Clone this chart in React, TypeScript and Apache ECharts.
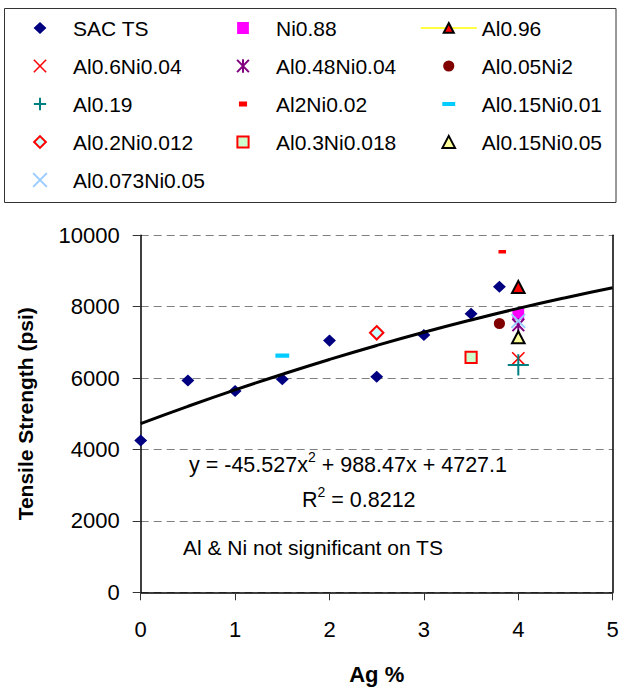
import React, { useEffect, useRef } from 'react';
import * as echarts from 'echarts';

// ---- data ----
const sacAg = [0, 0.5, 1, 1.5, 2, 2.5, 3, 3.5, 3.8];
const sacTS = [4250, 5930, 5640, 5970, 7050, 6040, 7210, 7800, 8560];

const alloyNames = [
  'Ni0.88', 'Al0.96', 'Al0.6Ni0.04', 'Al0.48Ni0.04', 'Al0.05Ni2', 'Al0.19',
  'Al2Ni0.02', 'Al0.15Ni0.01', 'Al0.2Ni0.012', 'Al0.3Ni0.018', 'Al0.15Ni0.05', 'Al0.073Ni0.05',
];
const alloyAg = [4, 4, 4, 4, 3.8, 4, 3.83, 1.5, 2.5, 3.5, 4, 4];
const alloyTS = [7800, 8550, 6550, 7490, 7530, 6370, 9540, 6630, 7270, 6580, 7140, 7600];

// polynomial trendline as drawn
const trendAg = [0, 0.5, 1, 1.5, 2, 2.5, 3, 3.5, 4, 4.5, 5];
const trendTS = [4727, 5210, 5670, 6107, 6522, 6914, 7283, 7629, 7953, 8253, 8531];

const equationText = '{n|y = -45.527x}{s|2}{n| + 988.47x + 4727.1}';
const r2Text = '{n|R}{s|2}{n| = 0.8212}';
const noteText = 'Al & Ni not significant on TS';

// ---- styling ----
const FONT = 'Liberation Sans';
const FR = 'M0 0 L0 0.01 M100 100 L100 99.99 ';
const SHAPES: Record<string, string> = {
  diamond: FR + 'M50 7 L96 50 L50 93 L4 50 Z',
  square: FR + 'M8 8 L92 8 L92 92 L8 92 Z',
  triangle: FR + 'M50 6 L95 92 L5 92 Z',
  cross: FR + 'M6 6 L94 94 M94 6 L6 94',
  asterisk: FR + 'M8 6 L92 94 M92 6 L8 94 M50 2 L50 98',
  circle: FR + 'M10 50 A40 40 0 1 1 90 50 A40 40 0 1 1 10 50 Z',
  plus: FR + 'M50 6 L50 94 M6 50 L94 50',
  dashSmall: FR + 'M21 33 L79 33 L79 67 L21 67 Z',
  dashWide: FR + 'M4 35 L96 35 L96 65 L4 65 Z',
  diamondSmall: FR + 'M50 8 L92 50 L50 92 L8 50 Z',
  squareSmall: FR + 'M10 10 L90 10 L90 90 L10 90 Z',
  bigCross: FR + 'M1 1 L99 99 M99 1 L1 99',
};

type Sty = { shape: string; size: number | number[]; fill?: string; stroke?: string; lw?: number };
const STY: Record<string, Sty> = {
  'SAC TS': { shape: 'diamond', size: 14, fill: '#000080' },
  'Ni0.88': { shape: 'square', size: 14, fill: '#FF00FF' },
  'Al0.96': { shape: 'triangle', size: 14, fill: '#FF0000', stroke: '#000000', lw: 2 },
  'Al0.6Ni0.04': { shape: 'cross', size: 14, stroke: '#FF0000', lw: 1.5 },
  'Al0.48Ni0.04': { shape: 'asterisk', size: 14, stroke: '#800080', lw: 2 },
  'Al0.05Ni2': { shape: 'circle', size: 14, fill: '#800000' },
  'Al0.19': { shape: 'plus', size: 24, stroke: '#008080', lw: 2 },
  'Al2Ni0.02': { shape: 'dashSmall', size: [13, 10], fill: '#FF0000' },
  'Al0.15Ni0.01': { shape: 'dashWide', size: [15, 14], fill: '#00CCFF' },
  'Al0.2Ni0.012': { shape: 'diamondSmall', size: 16, fill: '#CCFFFF', stroke: '#FF0000', lw: 2 },
  'Al0.3Ni0.018': { shape: 'squareSmall', size: 14, fill: '#CCFFCC', stroke: '#FF0000', lw: 2 },
  'Al0.15Ni0.05': { shape: 'triangle', size: 14, fill: '#FFFF99', stroke: '#000000', lw: 2 },
  'Al0.073Ni0.05': { shape: 'bigCross', size: 14, stroke: '#99CCFF', lw: 2 },
};

function itemStyleOf(s: Sty) {
  return {
    color: s.fill || 'rgba(0,0,0,0)',
    borderColor: s.stroke || 'rgba(0,0,0,0)',
    borderWidth: s.lw || 0,
    opacity: 1,
  };
}

const richStyles = {
  n: { fontFamily: FONT, fontSize: 21.5, lineHeight: 30, fill: '#000', color: '#000' },
  s: { fontFamily: FONT, fontSize: 14, lineHeight: 14, verticalAlign: 'top', fill: '#000', color: '#000' },
};

export default function App() {
  const ref = useRef<HTMLDivElement>(null);
  useEffect(() => {
    if (!ref.current) return;
    const chart = echarts.init(ref.current, undefined, { renderer: 'svg' });

    const legendOrder = ['SAC TS', ...alloyNames];
    const series: any[] = [];
    series.push({
      name: 'SAC TS',
      type: 'scatter',
      data: sacAg.map((x, i) => [x, sacTS[i]]),
      symbol: 'path://' + SHAPES[STY['SAC TS'].shape],
      symbolSize: STY['SAC TS'].size,
      itemStyle: itemStyleOf(STY['SAC TS']),
      emphasis: { disabled: true },
    });
    alloyNames.forEach((name, i) => {
      const s = STY[name];
      const isLine = name === 'Al0.96';
      series.push({
        name,
        type: isLine ? 'line' : 'scatter',
        data: [[alloyAg[i], alloyTS[i]]],
        symbol: 'path://' + SHAPES[s.shape],
        symbolSize: s.size,
        showSymbol: true,
        itemStyle: itemStyleOf(s),
        lineStyle: isLine ? { color: '#FFFF00', width: 1.5 } : undefined,
        emphasis: { disabled: true },
      });
    });
    series.push({
      name: 'trend',
      type: 'line',
      data: trendAg.map((x, i) => [x, trendTS[i]]),
      smooth: true,
      showSymbol: false,
      symbol: 'none',
      silent: true,
      lineStyle: { color: '#000000', width: 3 },
      emphasis: { disabled: true },
    });

    const colLefts = [32, 235, 420];
    const legends = [0, 1, 2].map((c) => ({
      orient: 'vertical',
      left: colLefts[c],
      top: 17.5,
      padding: 0,
      itemWidth: 56,
      itemHeight: 14,
      itemGap: 17,
      symbolKeepAspect: true,
      selectedMode: false,
      textStyle: { fontFamily: FONT, fontSize: 21, color: '#000000' },
      data: legendOrder
        .filter((_, i) => i % 3 === c)
        .map((name) => {
          const s = STY[name];
          if (name === 'Al0.96') {
            return {
              name,
              itemStyle: itemStyleOf(s),
              lineStyle: { color: '#FFFF00', width: 1.5 },
            };
          }
          return { name, icon: 'path://' + SHAPES[s.shape], itemStyle: itemStyleOf(s) };
        }),
    }));

    chart.setOption({
      animation: false,
      textStyle: { fontFamily: FONT },
      grid: { left: 140.7, right: 6.3, top: 235.3, bottom: 95.7, containLabel: false, outerBoundsMode: 'none' },
      legend: legends,
      xAxis: {
        type: 'value',
        min: 0,
        max: 5,
        interval: 1,
        name: 'Ag %',
        nameLocation: 'middle',
        nameGap: 71,
        nameTextStyle: { fontFamily: FONT, fontSize: 22, fontWeight: 'bold', color: '#000' },
        axisLine: { show: true, onZero: false, lineStyle: { color: '#000', width: 1.5 } },
        axisTick: { show: true, length: 8, lineStyle: { color: '#333', width: 1 } },
        axisLabel: { margin: 26, fontSize: 22, color: '#000', fontFamily: FONT, formatter: (v: number) => String(v) },
        splitLine: { show: false },
      },
      yAxis: [
        {
          type: 'value',
          min: 0,
          max: 10000,
          interval: 2000,
          name: 'Tensile Strength (psi)',
          nameLocation: 'middle',
          nameGap: 105,
          nameTextStyle: { fontFamily: FONT, fontSize: 21, fontWeight: 'bold', color: '#000' },
          axisLine: { show: true, lineStyle: { color: '#000', width: 1.5 } },
          axisTick: { show: true, length: 8, lineStyle: { color: '#333', width: 1 } },
          axisLabel: { margin: 21, fontSize: 22, color: '#000', fontFamily: FONT, formatter: (v: number) => String(v) },
          splitLine: { show: true, lineStyle: { color: '#808080', width: 1, type: [8, 5] } },
        },
        {
          type: 'value',
          min: 0,
          max: 10000,
          interval: 2000,
          position: 'right',
          axisLine: { show: true, lineStyle: { color: '#000', width: 1.5 } },
          axisTick: { show: false },
          axisLabel: { show: false },
          splitLine: { show: false },
        },
      ],
      series,
      graphic: [
        {
          type: 'rect',
          shape: { x: 4.5, y: 8.5, width: 611.5, height: 194 },
          style: { fill: 'none', stroke: '#333', lineWidth: 1 },
          silent: true,
        },
        {
          type: 'text',
          x: 189,
          y: 465,
          style: {
            text: equationText,
            align: 'left',
            verticalAlign: 'middle',
            textAlign: 'left',
            textVerticalAlign: 'middle',
            fill: '#000',
            rich: richStyles,
          },
          silent: true,
        },
        {
          type: 'text',
          x: 302,
          y: 500,
          style: {
            text: r2Text,
            align: 'left',
            verticalAlign: 'middle',
            textAlign: 'left',
            textVerticalAlign: 'middle',
            fill: '#000',
            rich: richStyles,
          },
          silent: true,
        },
        {
          type: 'text',
          x: 183,
          y: 547,
          style: {
            text: noteText,
            align: 'left',
            verticalAlign: 'middle',
            textAlign: 'left',
            textVerticalAlign: 'middle',
            fontFamily: FONT,
            fontSize: 21,
            fill: '#000',
          },
          silent: true,
        },
      ],
    });
    return () => chart.dispose();
  }, []);

  return (
    <div
      ref={ref}
      style={{ position: 'absolute', left: 0, top: 0, width: 619, height: 688, background: '#fff' }}
    />
  );
}
